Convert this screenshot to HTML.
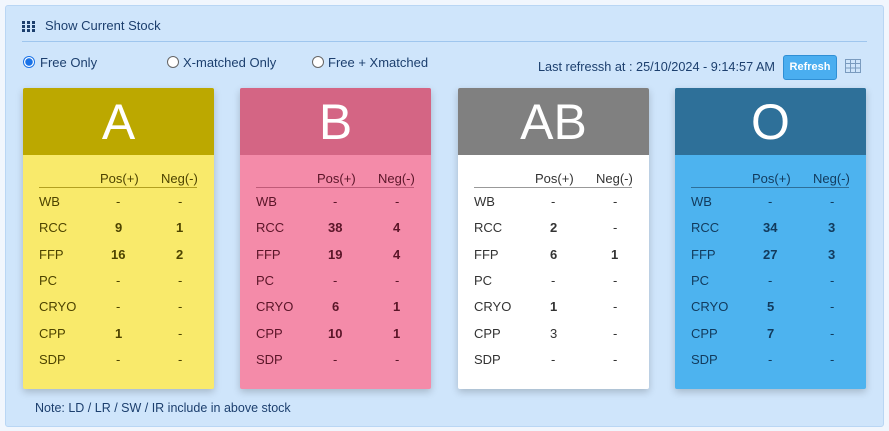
<!DOCTYPE html>
<html><head><meta charset="utf-8"><style>
*{margin:0;padding:0;box-sizing:border-box}
body{width:889px;height:431px;background:#f1f6fd;font-family:"Liberation Sans",sans-serif;position:relative;overflow:hidden}
.panel{position:absolute;left:5px;top:5px;width:879px;height:422px;background:#cfe5fb;border:1px solid #b9d6f4;border-radius:3px}
.t{position:absolute;font-size:13px;color:#1c3f6e;white-space:nowrap}
.card{position:absolute;top:88px;width:191px;height:301px;box-shadow:0 3px 8px rgba(0,0,0,.2);border-radius:2px;overflow:hidden}
.hd{height:67px;color:#fff;font-size:50px;text-align:center;line-height:68px}
.c{position:absolute;font-size:13px;white-space:nowrap}
.line{position:absolute;left:16px;width:158px;top:99px;height:1px}
.radio{position:absolute;width:12px;height:12px;border-radius:50%;border:1px solid #666;background:#fff;top:56px}
</style></head><body>
<div class="panel"></div>
<svg style="position:absolute;left:22px;top:21px" width="13" height="11"><g fill="#1c3f6e"><rect x="0" y="0" width="3" height="3"/><rect x="5" y="0" width="3" height="3"/><rect x="10" y="0" width="3" height="3"/><rect x="0" y="4" width="3" height="3"/><rect x="5" y="4" width="3" height="3"/><rect x="10" y="4" width="3" height="3"/><rect x="0" y="8" width="3" height="3"/><rect x="5" y="8" width="3" height="3"/><rect x="10" y="8" width="3" height="3"/></g></svg>
<div class="t" style="left:45px;top:18px">Show Current Stock</div>
<div style="position:absolute;left:22px;top:41px;width:845px;height:1px;background:#9fc6ee"></div>
<div class="radio" style="left:23px;border:1px solid #1a73e8;background:radial-gradient(circle,#1a73e8 3.5px,#fff 4px)"></div>
<div class="t" style="left:40px;top:55px">Free Only</div>
<div class="radio" style="left:167px"></div>
<div class="t" style="left:183px;top:55px">X-matched Only</div>
<div class="radio" style="left:312px"></div>
<div class="t" style="left:328px;top:55px">Free + Xmatched</div>
<div class="t" style="left:538px;top:60px;font-size:12.7px">Last refressh at : 25/10/2024 - 9:14:57 AM</div>
<div style="position:absolute;left:783px;top:55px;width:54px;height:25px;background:#4aaef0;border:1px solid #2f8fd5;border-radius:3px;color:#fff;font-size:11px;font-weight:bold;text-align:center;line-height:23px">Refresh</div>
<svg style="position:absolute;left:845px;top:59px" width="16" height="14"><rect x=".5" y=".5" width="15" height="13" fill="#cfe5fb" stroke="#7a9bbf"/><path d="M0.5 4.5H15.5M0.5 9H15.5M5.5 0.5V13.5M10.5 0.5V13.5" stroke="#7a9bbf"/></svg>

<div class="card" style="left:23px;background:#f9ea6b;color:#4d4300"><div class="hd" style="background:#bca800">A</div>
<div class="c" style="left:77px;top:83px">Pos(+)</div><div class="c" style="left:138px;top:83px">Neg(-)</div><div class="line" style="background:#b3a020"></div>
<div class="c" style="left:16px;top:106px">WB</div><div class="c" style="left:93px;top:106px">-</div><div class="c" style="left:155px;top:106px">-</div>
<div class="c" style="left:16px;top:132px">RCC</div><div class="c" style="left:92px;top:132px;font-weight:bold">9</div><div class="c" style="left:153px;top:132px;font-weight:bold">1</div>
<div class="c" style="left:16px;top:159px">FFP</div><div class="c" style="left:88px;top:159px;font-weight:bold">16</div><div class="c" style="left:153px;top:159px;font-weight:bold">2</div>
<div class="c" style="left:16px;top:185px">PC</div><div class="c" style="left:93px;top:185px">-</div><div class="c" style="left:155px;top:185px">-</div>
<div class="c" style="left:16px;top:211px">CRYO</div><div class="c" style="left:93px;top:211px">-</div><div class="c" style="left:155px;top:211px">-</div>
<div class="c" style="left:16px;top:238px">CPP</div><div class="c" style="left:92px;top:238px;font-weight:bold">1</div><div class="c" style="left:155px;top:238px">-</div>
<div class="c" style="left:16px;top:264px">SDP</div><div class="c" style="left:93px;top:264px">-</div><div class="c" style="left:155px;top:264px">-</div>
</div>

<div class="card" style="left:240px;background:#f48ba9;color:#5a1528"><div class="hd" style="background:#d46584">B</div>
<div class="c" style="left:77px;top:83px">Pos(+)</div><div class="c" style="left:138px;top:83px">Neg(-)</div><div class="line" style="background:#c05a78"></div>
<div class="c" style="left:16px;top:106px">WB</div><div class="c" style="left:93px;top:106px">-</div><div class="c" style="left:155px;top:106px">-</div>
<div class="c" style="left:16px;top:132px">RCC</div><div class="c" style="left:88px;top:132px;font-weight:bold">38</div><div class="c" style="left:153px;top:132px;font-weight:bold">4</div>
<div class="c" style="left:16px;top:159px">FFP</div><div class="c" style="left:88px;top:159px;font-weight:bold">19</div><div class="c" style="left:153px;top:159px;font-weight:bold">4</div>
<div class="c" style="left:16px;top:185px">PC</div><div class="c" style="left:93px;top:185px">-</div><div class="c" style="left:155px;top:185px">-</div>
<div class="c" style="left:16px;top:211px">CRYO</div><div class="c" style="left:92px;top:211px;font-weight:bold">6</div><div class="c" style="left:153px;top:211px;font-weight:bold">1</div>
<div class="c" style="left:16px;top:238px">CPP</div><div class="c" style="left:88px;top:238px;font-weight:bold">10</div><div class="c" style="left:153px;top:238px;font-weight:bold">1</div>
<div class="c" style="left:16px;top:264px">SDP</div><div class="c" style="left:93px;top:264px">-</div><div class="c" style="left:155px;top:264px">-</div>
</div>

<div class="card" style="left:458px;background:#fff;color:#333"><div class="hd" style="background:#808080">AB</div>
<div class="c" style="left:77px;top:83px">Pos(+)</div><div class="c" style="left:138px;top:83px">Neg(-)</div><div class="line" style="background:#999"></div>
<div class="c" style="left:16px;top:106px">WB</div><div class="c" style="left:93px;top:106px">-</div><div class="c" style="left:155px;top:106px">-</div>
<div class="c" style="left:16px;top:132px">RCC</div><div class="c" style="left:92px;top:132px;font-weight:bold">2</div><div class="c" style="left:155px;top:132px">-</div>
<div class="c" style="left:16px;top:159px">FFP</div><div class="c" style="left:92px;top:159px;font-weight:bold">6</div><div class="c" style="left:153px;top:159px;font-weight:bold">1</div>
<div class="c" style="left:16px;top:185px">PC</div><div class="c" style="left:93px;top:185px">-</div><div class="c" style="left:155px;top:185px">-</div>
<div class="c" style="left:16px;top:211px">CRYO</div><div class="c" style="left:92px;top:211px;font-weight:bold">1</div><div class="c" style="left:155px;top:211px">-</div>
<div class="c" style="left:16px;top:238px">CPP</div><div class="c" style="left:92px;top:238px">3</div><div class="c" style="left:155px;top:238px">-</div>
<div class="c" style="left:16px;top:264px">SDP</div><div class="c" style="left:93px;top:264px">-</div><div class="c" style="left:155px;top:264px">-</div>
</div>

<div class="card" style="left:675px;background:#4db3ef;color:#123a5c"><div class="hd" style="background:#2e7099">O</div>
<div class="c" style="left:77px;top:83px">Pos(+)</div><div class="c" style="left:138px;top:83px">Neg(-)</div><div class="line" style="background:#2e6f99"></div>
<div class="c" style="left:16px;top:106px">WB</div><div class="c" style="left:93px;top:106px">-</div><div class="c" style="left:155px;top:106px">-</div>
<div class="c" style="left:16px;top:132px">RCC</div><div class="c" style="left:88px;top:132px;font-weight:bold">34</div><div class="c" style="left:153px;top:132px;font-weight:bold">3</div>
<div class="c" style="left:16px;top:159px">FFP</div><div class="c" style="left:88px;top:159px;font-weight:bold">27</div><div class="c" style="left:153px;top:159px;font-weight:bold">3</div>
<div class="c" style="left:16px;top:185px">PC</div><div class="c" style="left:93px;top:185px">-</div><div class="c" style="left:155px;top:185px">-</div>
<div class="c" style="left:16px;top:211px">CRYO</div><div class="c" style="left:92px;top:211px;font-weight:bold">5</div><div class="c" style="left:155px;top:211px">-</div>
<div class="c" style="left:16px;top:238px">CPP</div><div class="c" style="left:92px;top:238px;font-weight:bold">7</div><div class="c" style="left:155px;top:238px">-</div>
<div class="c" style="left:16px;top:264px">SDP</div><div class="c" style="left:93px;top:264px">-</div><div class="c" style="left:155px;top:264px">-</div>
</div>

<div class="t" style="left:35px;top:401px;font-size:12.5px">Note: LD / LR / SW / IR include in above stock</div>
</body></html>
